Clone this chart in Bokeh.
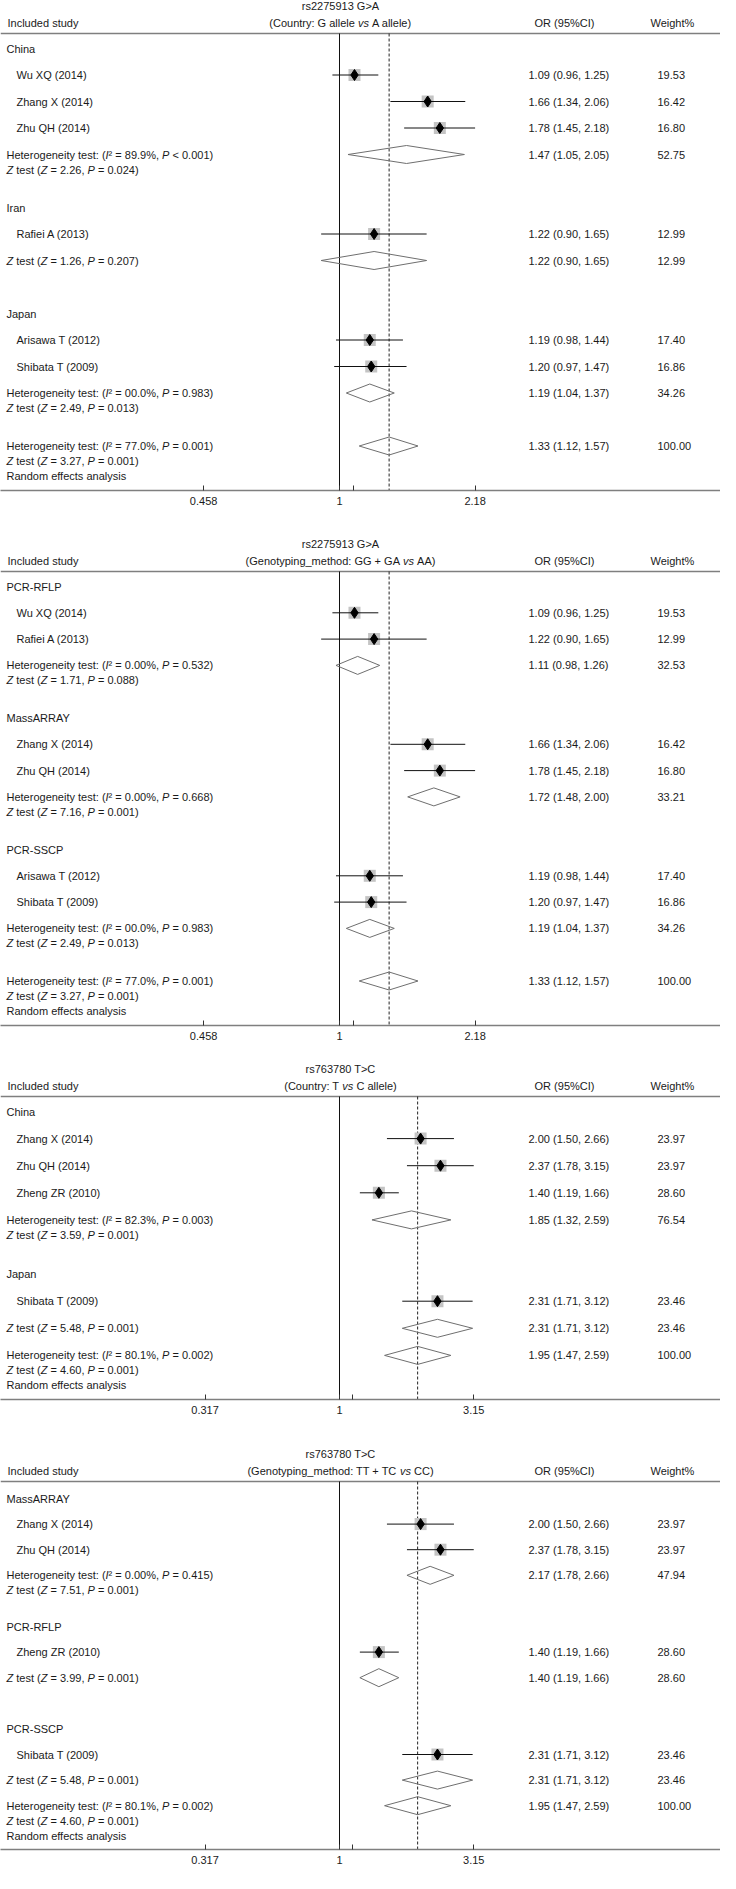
import math
from bokeh.plotting import figure
from bokeh.models import Range1d, LinearScale, FixedTicker, CustomJSTickFormatter
from bokeh.layouts import column
from bokeh.embed import file_html
from bokeh.resources import INLINE
from bokeh.core.properties import value

# ---------------- Panel 1: rs2275913 G>A by country ----------------
P1_TITLE = "rs2275913 G>A"
P1_SUBTITLE = ["(Country: G allele ", "vs", " A allele)"]
P1_GROUPS = ["China", "Iran", "Japan"]
P1_GROUP_N = [3, 1, 2]
P1_STUDIES = ["Wu XQ (2014)", "Zhang X (2014)", "Zhu QH (2014)", "Rafiei A (2013)",
              "Arisawa T (2012)", "Shibata T (2009)"]
P1_OR = [1.09, 1.66, 1.78, 1.22, 1.19, 1.20]
P1_LO = [0.96, 1.34, 1.45, 0.90, 0.98, 0.97]
P1_HI = [1.25, 2.06, 2.18, 1.65, 1.44, 1.47]
P1_WT = [19.53, 16.42, 16.80, 12.99, 17.40, 16.86]
P1_POOL_OR = [1.47, 1.22, 1.19, 1.33]
P1_POOL_LO = [1.05, 0.90, 1.04, 1.12]
P1_POOL_HI = [2.05, 1.65, 1.37, 1.57]
P1_POOL_WT = [52.75, 12.99, 34.26, 100.00]
P1_I2 = ["89.9%", "", "00.0%", "77.0%"]
P1_HET_P = ["< 0.001", "", "= 0.983", "= 0.001"]
P1_Z = ["2.26", "1.26", "2.49", "3.27"]
P1_Z_P = ["0.024", "0.207", "0.013", "0.001"]
P1_TICKS = [0.458, 1, 2.18]
P1_MINOR = [1.084]

# ---------------- Panel 2: rs2275913 G>A by genotyping method ----------------
P2_TITLE = "rs2275913 G>A"
P2_SUBTITLE = ["(Genotyping_method: GG + GA ", "vs", " AA)"]
P2_GROUPS = ["PCR-RFLP", "MassARRAY", "PCR-SSCP"]
P2_GROUP_N = [2, 2, 2]
P2_STUDIES = ["Wu XQ (2014)", "Rafiei A (2013)", "Zhang X (2014)", "Zhu QH (2014)",
              "Arisawa T (2012)", "Shibata T (2009)"]
P2_OR = [1.09, 1.22, 1.66, 1.78, 1.19, 1.20]
P2_LO = [0.96, 0.90, 1.34, 1.45, 0.98, 0.97]
P2_HI = [1.25, 1.65, 2.06, 2.18, 1.44, 1.47]
P2_WT = [19.53, 12.99, 16.42, 16.80, 17.40, 16.86]
P2_POOL_OR = [1.11, 1.72, 1.19, 1.33]
P2_POOL_LO = [0.98, 1.48, 1.04, 1.12]
P2_POOL_HI = [1.26, 2.00, 1.37, 1.57]
P2_POOL_WT = [32.53, 33.21, 34.26, 100.00]
P2_I2 = ["0.00%", "0.00%", "00.0%", "77.0%"]
P2_HET_P = ["= 0.532", "= 0.668", "= 0.983", "= 0.001"]
P2_Z = ["1.71", "7.16", "2.49", "3.27"]
P2_Z_P = ["0.088", "0.001", "0.013", "0.001"]
P2_TICKS = [0.458, 1, 2.18]
P2_MINOR = [1.084]

# ---------------- Panel 3: rs763780 T>C by country ----------------
P3_TITLE = "rs763780 T>C"
P3_SUBTITLE = ["(Country: T ", "vs", " C allele)"]
P3_GROUPS = ["China", "Japan"]
P3_GROUP_N = [3, 1]
P3_STUDIES = ["Zhang X (2014)", "Zhu QH (2014)", "Zheng ZR (2010)", "Shibata T (2009)"]
P3_OR = [2.00, 2.37, 1.40, 2.31]
P3_LO = [1.50, 1.78, 1.19, 1.71]
P3_HI = [2.66, 3.15, 1.66, 3.12]
P3_WT = [23.97, 23.97, 28.60, 23.46]
P3_POOL_OR = [1.85, 2.31, 1.95]
P3_POOL_LO = [1.32, 1.71, 1.47]
P3_POOL_HI = [2.59, 3.12, 2.59]
P3_POOL_WT = [76.54, 23.46, 100.00]
P3_I2 = ["82.3%", "", "80.1%"]
P3_HET_P = ["= 0.003", "", "= 0.002"]
P3_Z = ["3.59", "5.48", "4.60"]
P3_Z_P = ["0.001", "0.001", "0.001"]
P3_TICKS = [0.317, 1, 3.15]
P3_MINOR = [1.12]

# ---------------- Panel 4: rs763780 T>C by genotyping method ----------------
P4_TITLE = "rs763780 T>C"
P4_SUBTITLE = ["(Genotyping_method: TT + TC ", "vs", " CC)"]
P4_GROUPS = ["MassARRAY", "PCR-RFLP", "PCR-SSCP"]
P4_GROUP_N = [2, 1, 1]
P4_STUDIES = ["Zhang X (2014)", "Zhu QH (2014)", "Zheng ZR (2010)", "Shibata T (2009)"]
P4_OR = [2.00, 2.37, 1.40, 2.31]
P4_LO = [1.50, 1.78, 1.19, 1.71]
P4_HI = [2.66, 3.15, 1.66, 3.12]
P4_WT = [23.97, 23.97, 28.60, 23.46]
P4_POOL_OR = [2.17, 1.40, 2.31, 1.95]
P4_POOL_LO = [1.78, 1.19, 1.71, 1.47]
P4_POOL_HI = [2.66, 1.66, 3.12, 2.59]
P4_POOL_WT = [47.94, 28.60, 23.46, 100.00]
P4_I2 = ["0.00%", "", "", "80.1%"]
P4_HET_P = ["= 0.415", "", "", "= 0.002"]
P4_Z = ["7.51", "3.99", "5.48", "4.60"]
P4_Z_P = ["0.001", "0.001", "0.001", "0.001"]
P4_TICKS = [0.317, 1, 3.15]
P4_MINOR = [1.12]

# ---------------- styling / layout ----------------
FONT = "Liberation Sans"
FS = 11
TXT = "#1a1a1a"
GRAY = "#7f7f7f"
W = 720
X_ONE = 339          # pixel of OR = 1 inside the frame

# Arial / Liberation Sans advance widths (1/1000 em)
_AW = {" ": 278, "%": 889, "(": 333, ")": 333, "+": 584, ",": 278, "-": 333, ".": 278,
       ":": 278, "<": 584, "=": 584, ">": 584, "_": 556, "\u00b2": 333}
for _c in "0123456789":
    _AW[_c] = 556
_AW.update(dict(zip("ABCDEFGHIJKLMNOPQRSTUVWXYZ",
                    [667, 667, 722, 722, 667, 611, 778, 722, 278, 500, 667, 556, 833,
                     722, 778, 667, 778, 722, 667, 611, 722, 667, 944, 667, 667, 611])))
_AW.update(dict(zip("abcdefghijklmnopqrstuvwxyz",
                    [556, 556, 500, 556, 556, 278, 556, 556, 222, 222, 500, 222, 833,
                     556, 556, 556, 556, 333, 500, 278, 556, 500, 722, 500, 500, 500])))


def tw(s):
    return sum(_AW.get(c, 556) for c in s) * FS / 1000.0


class TextBag:
    def __init__(self):
        self.n = {"x": [], "y": [], "t": []}
        self.i = {"x": [], "y": [], "t": []}

    def add(self, x, y, segs, align="left"):
        total = sum(tw(s) for s, _ in segs)
        cx = x - total / 2.0 if align == "center" else x
        for s, it in segs:
            lead = len(s) - len(s.lstrip())
            body = s.strip()
            if body:
                d = self.i if it else self.n
                d["x"].append(cx + tw(s[:lead]))
                d["y"].append(y)
                d["t"].append(body)
            cx += tw(s)


def het_segs(i2, pv):
    return [("Heterogeneity test: (", False), ("I", True), ("\u00b2 = " + i2 + ", ", False),
            ("P", True), (" " + pv + ")", False)]


def z_segs(z, pv):
    return [("Z", True), (" test (", False), ("Z", True), (" = " + z + ", ", False),
            ("P", True), (" = " + pv + ")", False)]


def ci_text(o, l, h):
    return "%.2f (%.2f, %.2f)" % (o, l, h)


def panel(title, subtitle, groups, group_n, studies, orr, lo, hi, wt,
          pool_or, pool_lo, pool_hi, pool_wt, i2, hetp, zz, zp, ticks, minor,
          k, row1, sp, frame_h, border):
    T = 5
    p = figure(frame_width=W, frame_height=frame_h, x_axis_type="log",
               x_range=Range1d(math.exp(-X_ONE / k), math.exp((W - X_ONE) / k)),
               y_range=Range1d(frame_h, 0), output_backend="svg", toolbar_location=None,
               y_axis_location=None, min_border_left=0, min_border_right=0,
               min_border_top=0, min_border_bottom=border)
    p.extra_x_ranges = {"px": Range1d(0, W)}
    p.extra_x_scales = {"px": LinearScale()}
    p.outline_line_color = None
    p.xgrid.visible = False
    p.ygrid.visible = False
    p.background_fill_color = "white"
    p.border_fill_color = "white"

    def yrow(r):
        return T + row1 + r * sp

    # row assignment
    r = 0
    g_rows, s_rows, p_rows = [], [], []
    for g, n in enumerate(group_n):
        g_rows.append(r)
        r += 1
        for _ in range(n):
            s_rows.append(r)
            r += 1
        p_rows.append(r)
        r += 1
        if g < len(group_n) - 1 or n > 1:
            r += 1
    p_rows.append(r)

    bag = TextBag()
    # header
    bag.add(340, T, [(title, False)], "center")
    hy = T + 17
    bag.add(7, hy, [("Included study", False)])
    bag.add(340, hy, [(subtitle[0], False), (subtitle[1], True), (subtitle[2], False)], "center")
    bag.add(564, hy, [("OR (95%CI)", False)], "center")
    bag.add(672, hy, [("Weight%", False)], "center")
    line_y = T + 28

    for g, gr in enumerate(g_rows):
        bag.add(6, yrow(gr), [(groups[g], False)])
    sy = [yrow(rr) for rr in s_rows]
    for j, y in enumerate(sy):
        bag.add(16, y, [(studies[j], False)])
        bag.add(528, y, [(ci_text(orr[j], lo[j], hi[j]), False)])
        bag.add(657, y, [("%.2f" % wt[j], False)])
    py = [yrow(rr) for rr in p_rows]
    ng = len(groups)
    for j, y in enumerate(py):
        if j < ng and group_n[j] == 1:
            bag.add(6, y, z_segs(zz[j], zp[j]))
        else:
            bag.add(6, y, het_segs(i2[j], hetp[j]))
            bag.add(6, y + 15, z_segs(zz[j], zp[j]))
        if j == ng:
            bag.add(6, y + 30, [("Random effects analysis", False)])
        bag.add(528, y, [(ci_text(pool_or[j], pool_lo[j], pool_hi[j]), False)])
        bag.add(657, y, [("%.2f" % pool_wt[j], False)])

    # reference lines
    p.segment(x0=[0], x1=[W], y0=[line_y], y1=[line_y], x_range_name="px",
              line_color=GRAY, line_width=1.6)
    p.segment(x0=[1], x1=[1], y0=[line_y], y1=[frame_h], line_color="#111111", line_width=1)
    ov = pool_or[-1]
    p.segment(x0=[ov], x1=[ov], y0=[line_y], y1=[frame_h], line_color="#222222",
              line_width=1, line_dash="3 2")

    # study estimates
    p.scatter(orr, sy, marker="square", size=12, fill_color="#c4c4c4", line_color=None)
    p.segment(x0=lo, x1=hi, y0=sy, y1=sy, line_color="#111111", line_width=1)
    p.scatter(orr, sy, marker="diamond", size=11, fill_color="black", line_color="black")

    # pooled diamonds
    dx = [[l, o, h, o] for l, o, h in zip(pool_lo, pool_or, pool_hi)]
    dy = [[y, y - 9, y, y + 9] for y in py]
    p.patches(dx, dy, fill_alpha=0, line_color="#6f6f6f", line_width=1)

    # texts
    p.text(x=bag.n["x"], y=bag.n["y"], text=bag.n["t"], x_range_name="px",
           text_font=value(FONT), text_font_size="%dpx" % FS, text_baseline="middle",
           text_align="left", text_color=TXT)
    p.text(x=bag.i["x"], y=bag.i["y"], text=bag.i["t"], x_range_name="px",
           text_font=value(FONT), text_font_size="%dpx" % FS, text_baseline="middle",
           text_align="left", text_color=TXT, text_font_style="italic")

    ax = p.xaxis[0]
    ax.ticker = FixedTicker(ticks=ticks, minor_ticks=minor)
    ax.formatter = CustomJSTickFormatter(code="return String(tick);")
    ax.axis_line_color = GRAY
    ax.axis_line_width = 1.6
    ax.major_tick_in = 5
    ax.major_tick_out = 0
    ax.minor_tick_in = 5
    ax.minor_tick_out = 0
    ax.major_tick_line_color = "#333333"
    ax.minor_tick_line_color = "#333333"
    ax.major_label_standoff = 6
    ax.major_label_text_font = FONT
    ax.major_label_text_font_size = "%dpx" % FS
    ax.major_label_text_color = TXT
    return p


p1 = panel(P1_TITLE, P1_SUBTITLE, P1_GROUPS, P1_GROUP_N, P1_STUDIES, P1_OR, P1_LO, P1_HI, P1_WT,
           P1_POOL_OR, P1_POOL_LO, P1_POOL_HI, P1_POOL_WT, P1_I2, P1_HET_P, P1_Z, P1_Z_P,
           P1_TICKS, P1_MINOR, 174, 43, 26.5, 490, 48)
p2 = panel(P2_TITLE, P2_SUBTITLE, P2_GROUPS, P2_GROUP_N, P2_STUDIES, P2_OR, P2_LO, P2_HI, P2_WT,
           P2_POOL_OR, P2_POOL_LO, P2_POOL_HI, P2_POOL_WT, P2_I2, P2_HET_P, P2_Z, P2_Z_P,
           P2_TICKS, P2_MINOR, 174, 43, 26.3, 487, 38)
p3 = panel(P3_TITLE, P3_SUBTITLE, P3_GROUPS, P3_GROUP_N, P3_STUDIES, P3_OR, P3_LO, P3_HI, P3_WT,
           P3_POOL_OR, P3_POOL_LO, P3_POOL_HI, P3_POOL_WT, P3_I2, P3_HET_P, P3_Z, P3_Z_P,
           P3_TICKS, P3_MINOR, 117, 43, 27.1, 336, 49)
p4 = panel(P4_TITLE, P4_SUBTITLE, P4_GROUPS, P4_GROUP_N, P4_STUDIES, P4_OR, P4_LO, P4_HI, P4_WT,
           P4_POOL_OR, P4_POOL_LO, P4_POOL_HI, P4_POOL_WT, P4_I2, P4_HET_P, P4_Z, P4_Z_P,
           P4_TICKS, P4_MINOR, 117, 45, 25.6, 401, 22)

layout = column(p1, p2, p3, p4, spacing=0)
open("out.html", "w").write(file_html(layout, INLINE))
